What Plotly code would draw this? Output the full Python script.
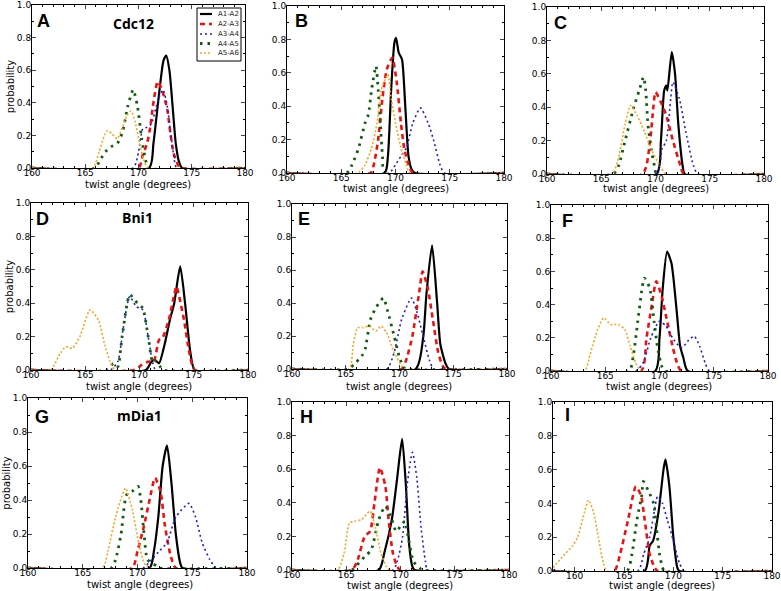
import plotly.graph_objects as go

# ---------------- data (twist angle in degrees, probability) ----------------
series_names = ["A1-A2", "A2-A3", "A3-A4", "A4-A5", "A5-A6"]
panel_letters = ["A", "B", "C", "D", "E", "F", "G", "H", "I"]
row_titles = ["Cdc12", "Bni1", "mDia1"]
x_ticks = [160, 165, 170, 175, 180]

# Panel A
A_x1 = [160, 171.0, 171.4, 171.8, 172.1, 172.35, 172.6, 172.9, 173.2, 173.5, 173.8, 174.1, 180]
A_y1 = [0, 0, 0.15, 0.38, 0.55, 0.66, 0.69, 0.6, 0.38, 0.15, 0.04, 0, 0]
A_x2 = [160, 170.0, 170.4, 170.8, 171.1, 171.4, 171.8, 172.2, 172.7, 173.0, 173.3, 173.7, 174.0, 180]
A_y2 = [0, 0, 0.08, 0.15, 0.25, 0.4, 0.53, 0.48, 0.36, 0.21, 0.09, 0.02, 0, 0]
A_x3 = [160, 169.5, 170.0, 170.4, 170.8, 171.2, 171.6, 171.9, 172.3, 172.7, 173.0, 173.3, 173.6, 180]
A_y3 = [0, 0, 0.1, 0.24, 0.25, 0.27, 0.36, 0.43, 0.48, 0.38, 0.22, 0.08, 0, 0]
A_x4 = [160, 165.9, 166.4, 166.9, 167.4, 168.0, 168.5, 169.0, 169.5, 169.9, 170.3, 170.7, 171.0, 180]
A_y4 = [0, 0, 0.05, 0.1, 0.13, 0.15, 0.22, 0.38, 0.48, 0.38, 0.18, 0.04, 0, 0]
A_x5 = [160, 165.7, 166.3, 166.8, 167.1, 167.5, 168.0, 168.5, 168.9, 169.3, 169.7, 170.1, 170.5, 170.9, 180]
A_y5 = [0, 0, 0.1, 0.2, 0.23, 0.21, 0.18, 0.25, 0.32, 0.35, 0.28, 0.15, 0.05, 0, 0]

# Panel B
B_x1 = [160, 169.0, 169.3, 169.6, 169.9, 170.05, 170.3, 170.6, 170.9, 171.2, 171.5, 171.8, 180]
B_y1 = [0, 0, 0.1, 0.5, 0.78, 0.81, 0.72, 0.68, 0.4, 0.1, 0.02, 0, 0]
B_x2 = [160, 167.7, 168.0, 168.4, 168.8, 169.2, 169.7, 170.1, 170.5, 170.8, 171.2, 171.6, 180]
B_y2 = [0, 0, 0.05, 0.2, 0.45, 0.62, 0.69, 0.55, 0.3, 0.15, 0.05, 0, 0]
B_x3 = [160, 169.4, 170.0, 170.5, 171.0, 171.6, 172.3, 173.0, 173.5, 174.1, 174.5, 180]
B_y3 = [0, 0, 0.05, 0.1, 0.15, 0.3, 0.39, 0.3, 0.2, 0.05, 0, 0]
B_x4 = [160, 165.5, 166.0, 166.6, 167.2, 167.5, 167.8, 168.2, 168.4, 168.6, 168.8, 169.0, 180]
B_y4 = [0, 0, 0.05, 0.15, 0.3, 0.35, 0.5, 0.64, 0.5, 0.3, 0.1, 0, 0]
B_x5 = [160, 166.5, 167.2, 167.8, 168.3, 168.7, 169.3, 169.6, 170.0, 170.5, 171.0, 171.3, 180]
B_y5 = [0, 0, 0.05, 0.15, 0.3, 0.5, 0.59, 0.45, 0.3, 0.15, 0.05, 0, 0]

# Panel C
C_x1 = [160, 170.1, 170.5, 170.8, 171.0, 171.1, 171.5, 171.8, 172.1, 172.5, 172.7, 180]
C_y1 = [0, 0, 0.2, 0.5, 0.53, 0.5, 0.73, 0.6, 0.3, 0.05, 0, 0]
C_x2 = [160, 168.8, 169.5, 169.8, 170.0, 170.5, 171.0, 171.6, 172.3, 172.6, 180]
C_y2 = [0, 0, 0.2, 0.4, 0.49, 0.43, 0.35, 0.2, 0.05, 0, 0]
C_x3 = [160, 170.1, 170.6, 171.0, 171.4, 171.6, 172.2, 172.8, 173.5, 173.9, 180]
C_y3 = [0, 0, 0.15, 0.2, 0.45, 0.55, 0.45, 0.25, 0.05, 0, 0]
C_x4 = [160, 166.1, 166.6, 167.2, 168.0, 168.5, 168.9, 169.1, 169.3, 169.6, 169.9, 170.1, 180]
C_y4 = [0, 0, 0.05, 0.2, 0.4, 0.5, 0.58, 0.5, 0.3, 0.15, 0.05, 0, 0]
C_x5 = [160, 166.0, 166.6, 167.2, 167.7, 168.3, 169.0, 169.6, 170.4, 171.0, 180]
C_y5 = [0, 0, 0.1, 0.3, 0.41, 0.35, 0.25, 0.15, 0.05, 0, 0]

# Panel D
D_x1 = [160, 170.6, 171.1, 171.4, 171.8, 172.3, 172.8, 173.2, 173.75, 174.2, 174.7, 175.1, 180]
D_y1 = [0, 0, 0.05, 0.06, 0.04, 0.15, 0.3, 0.4, 0.62, 0.4, 0.1, 0, 0]
D_x2 = [160, 169.5, 170.2, 170.8, 171.3, 171.8, 172.1, 172.7, 173.2, 173.4, 174.1, 174.6, 175.1, 180]
D_y2 = [0, 0, 0.03, 0.05, 0.05, 0.18, 0.19, 0.3, 0.45, 0.5, 0.3, 0.1, 0, 0]
D_x3 = [160, 167.3, 168.0, 168.5, 169.1, 169.7, 170.3, 170.8, 171.2, 171.5, 180]
D_y3 = [0, 0, 0.05, 0.25, 0.44, 0.38, 0.36, 0.2, 0.05, 0, 0]
D_x4 = [160, 167.0, 167.6, 168.0, 168.4, 169.1, 169.8, 170.3, 170.8, 171.2, 171.4, 171.9, 172.2, 180]
D_y4 = [0, 0, 0.04, 0.02, 0.2, 0.45, 0.4, 0.37, 0.2, 0.05, 0.06, 0.02, 0, 0]
D_x5 = [160, 161.8, 162.7, 163.2, 163.8, 164.5, 165.45, 166.2, 166.8, 167.3, 167.8, 180]
D_y5 = [0, 0, 0.1, 0.14, 0.13, 0.2, 0.36, 0.3, 0.15, 0.05, 0, 0]

# Panel E
E_x1 = [160, 171.5, 172.2, 172.5, 173.03, 173.5, 173.8, 174.3, 174.6, 180]
E_y1 = [0, 0, 0.19, 0.45, 0.75, 0.4, 0.15, 0.03, 0, 0]
E_x2 = [160, 170.2, 170.6, 171.2, 171.8, 172.15, 172.6, 173.1, 173.6, 174.0, 174.3, 180]
E_y2 = [0, 0, 0.05, 0.2, 0.45, 0.59, 0.5, 0.3, 0.1, 0.02, 0, 0]
E_x3 = [160, 168.8, 169.5, 170.2, 171.1, 171.6, 172.2, 172.8, 173.2, 180]
E_y3 = [0, 0, 0.1, 0.3, 0.43, 0.35, 0.2, 0.05, 0, 0]
E_x4 = [160, 165.2, 165.8, 166.5, 166.8, 167.3, 167.8, 168.5, 168.9, 169.5, 170.0, 170.4, 170.6, 180]
E_y4 = [0, 0, 0.03, 0.08, 0.12, 0.3, 0.37, 0.43, 0.35, 0.2, 0.07, 0.01, 0, 0]
E_x5 = [160, 165.3, 165.7, 166.1, 166.6, 167.2, 167.8, 168.3, 168.8, 169.5, 170.2, 170.6, 180]
E_y5 = [0, 0, 0.15, 0.25, 0.25, 0.26, 0.23, 0.26, 0.22, 0.1, 0.02, 0, 0]

# Panel F
F_x1 = [160, 169.6, 170.0, 170.3, 170.7, 171.1, 171.3, 171.6, 171.9, 172.2, 172.6, 180]
F_y1 = [0, 0, 0.2, 0.5, 0.72, 0.65, 0.55, 0.35, 0.15, 0.08, 0, 0]
F_x2 = [160, 168.3, 168.8, 169.3, 169.7, 170.2, 170.7, 171.2, 171.6, 172.0, 180]
F_y2 = [0, 0, 0.2, 0.4, 0.54, 0.45, 0.3, 0.15, 0.05, 0, 0]
F_x3 = [160, 167.8, 168.5, 169.2, 170.0, 170.6, 171.2, 171.8, 172.1, 172.6, 173.2, 173.7, 174.2, 174.6, 180]
F_y3 = [0, 0, 0.05, 0.2, 0.3, 0.27, 0.2, 0.15, 0.14, 0.18, 0.21, 0.15, 0.05, 0, 0]
F_x4 = [160, 167.2, 167.6, 168.0, 168.4, 168.6, 169.1, 169.5, 169.8, 170.2, 170.5, 180]
F_y4 = [0, 0, 0.1, 0.3, 0.5, 0.56, 0.5, 0.3, 0.15, 0.03, 0, 0]
F_x5 = [160, 163.1, 163.6, 164.3, 164.85, 165.5, 166.2, 166.8, 167.3, 167.8, 168.3, 180]
F_y5 = [0, 0, 0.1, 0.25, 0.32, 0.28, 0.28, 0.25, 0.15, 0.05, 0, 0]

# Panel G
G_x1 = [160, 171.1, 171.5, 171.9, 172.3, 172.7, 173.1, 173.5, 173.9, 174.1, 180]
G_y1 = [0, 0, 0.1, 0.3, 0.6, 0.72, 0.5, 0.2, 0.03, 0, 0]
G_x2 = [160, 169.5, 170.0, 170.6, 171.1, 171.6, 172.1, 172.5, 173.0, 173.5, 180]
G_y2 = [0, 0, 0.1, 0.25, 0.4, 0.53, 0.45, 0.25, 0.08, 0, 0]
G_x3 = [160, 170.5, 171.3, 172.0, 172.7, 173.5, 174.7, 175.3, 175.9, 176.6, 177.2, 180]
G_y3 = [0, 0, 0.05, 0.1, 0.15, 0.3, 0.38, 0.3, 0.15, 0.05, 0, 0]
G_x4 = [160, 167.6, 168.0, 168.5, 169.0, 169.5, 170.05, 170.3, 170.6, 170.9, 171.3, 171.8, 172.0, 180]
G_y4 = [0, 0, 0.05, 0.2, 0.43, 0.45, 0.48, 0.4, 0.2, 0.05, 0.03, 0.01, 0, 0]
G_x5 = [160, 166.8, 167.3, 168.0, 168.9, 169.5, 170.1, 170.6, 171.0, 180]
G_y5 = [0, 0, 0.1, 0.3, 0.47, 0.35, 0.15, 0.03, 0, 0]

# Panel H
H_x1 = [160, 168.0, 168.5, 169.2, 169.7, 170.15, 170.5, 170.8, 171.1, 171.3, 180]
H_y1 = [0, 0, 0.1, 0.3, 0.55, 0.78, 0.5, 0.15, 0.02, 0, 0]
H_x2 = [160, 165.5, 166.0, 166.7, 167.2, 167.6, 168.1, 168.6, 168.9, 169.3, 169.7, 170.0, 180]
H_y2 = [0, 0, 0.05, 0.2, 0.23, 0.4, 0.61, 0.5, 0.3, 0.1, 0.02, 0, 0]
H_x3 = [160, 169.3, 169.7, 170.2, 170.6, 171.1, 171.5, 171.9, 172.3, 172.5, 180]
H_y3 = [0, 0, 0.05, 0.2, 0.5, 0.7, 0.55, 0.25, 0.05, 0, 0]
H_x4 = [160, 165.5, 166.0, 166.7, 167.3, 168.0, 168.6, 169.2, 169.6, 170.1, 170.4, 170.7, 171.2, 171.8, 172.0, 180]
H_y4 = [0, 0, 0.03, 0.08, 0.12, 0.3, 0.38, 0.3, 0.23, 0.27, 0.29, 0.2, 0.05, 0.01, 0, 0]
H_x5 = [160, 164.2, 164.8, 165.3, 165.8, 166.4, 167.2, 167.7, 168.2, 168.7, 169.0, 180]
H_y5 = [0, 0, 0.1, 0.28, 0.29, 0.3, 0.35, 0.25, 0.1, 0.02, 0, 0]

# Panel I
I_x1 = [157.8, 167.1, 167.6, 167.95, 168.5, 169.0, 169.2, 169.6, 170.0, 170.4, 170.6, 180]
I_y1 = [0, 0, 0.15, 0.18, 0.35, 0.6, 0.66, 0.5, 0.2, 0.02, 0, 0]
I_x2 = [157.8, 164.0, 164.6, 165.4, 166.2, 166.7, 167.1, 167.6, 168.1, 168.4, 180]
I_y2 = [0, 0, 0.1, 0.3, 0.5, 0.45, 0.3, 0.1, 0.02, 0, 0]
I_x3 = [157.8, 166.4, 167.0, 167.6, 168.0, 168.4, 168.9, 169.4, 170.0, 170.6, 171.1, 180]
I_y3 = [0, 0, 0.1, 0.2, 0.33, 0.44, 0.4, 0.3, 0.18, 0.05, 0, 0]
I_x4 = [157.8, 165.3, 165.8, 166.3, 166.8, 166.95, 167.5, 168.0, 168.3, 168.6, 168.9, 169.1, 180]
I_y4 = [0, 0, 0.1, 0.3, 0.45, 0.53, 0.47, 0.4, 0.25, 0.1, 0.02, 0, 0]
I_x5 = [157.8, 159.0, 159.8, 160.3, 161.0, 161.4, 161.9, 162.4, 162.9, 163.3, 180]
I_y5 = [0.02, 0.1, 0.15, 0.2, 0.35, 0.42, 0.35, 0.2, 0.05, 0, 0]

x_ranges = [[160, 180]] * 8 + [[157.8, 180]]

panel_data = {
    "A": [(A_x1, A_y1), (A_x2, A_y2), (A_x3, A_y3), (A_x4, A_y4), (A_x5, A_y5)],
    "B": [(B_x1, B_y1), (B_x2, B_y2), (B_x3, B_y3), (B_x4, B_y4), (B_x5, B_y5)],
    "C": [(C_x1, C_y1), (C_x2, C_y2), (C_x3, C_y3), (C_x4, C_y4), (C_x5, C_y5)],
    "D": [(D_x1, D_y1), (D_x2, D_y2), (D_x3, D_y3), (D_x4, D_y4), (D_x5, D_y5)],
    "E": [(E_x1, E_y1), (E_x2, E_y2), (E_x3, E_y3), (E_x4, E_y4), (E_x5, E_y5)],
    "F": [(F_x1, F_y1), (F_x2, F_y2), (F_x3, F_y3), (F_x4, F_y4), (F_x5, F_y5)],
    "G": [(G_x1, G_y1), (G_x2, G_y2), (G_x3, G_y3), (G_x4, G_y4), (G_x5, G_y5)],
    "H": [(H_x1, H_y1), (H_x2, H_y2), (H_x3, H_y3), (H_x4, H_y4), (H_x5, H_y5)],
    "I": [(I_x1, I_y1), (I_x2, I_y2), (I_x3, I_y3), (I_x4, I_y4), (I_x5, I_y5)],
}

# ---------------- styles / layout ----------------
W, H = 781, 591
styles = [
    dict(color="#000000", width=2.2, dash="solid"),
    dict(color="#f01010", width=2.6, dash="5px,4px"),
    dict(color="#1f1fd0", width=1.6, dash="2px,3px"),
    dict(color="#0d5e0d", width=2.8, dash="2.5px,5px"),
    dict(color="#f5a623", width=1.6, dash="2px,2px"),
]

# plot-area boxes in window pixels: (left, right, top, bottom)
boxes = [
    (32, 245, 5, 168), (287, 504, 6, 173), (547, 764, 7, 174),
    (31, 248, 203, 370), (292, 507, 204, 369), (551, 768, 205, 371),
    (28, 247, 398, 568), (292, 509, 402, 570), (553, 772, 402, 571),
]
letter_pos = [(43, 21), (301, 21), (560, 23), (42, 219), (304, 219), (567, 221),
              (42, 417), (306, 417), (567, 415)]
title_pos = [(133, 23), (137, 218), (139, 415)]
xtitle_pos = [(138, 184), (396, 188), (656, 189), (139, 386), (399, 386), (659, 386),
              (140, 584), (400, 585), (662, 585)]

# legend box (panel A, top-right), in window pixels
leg_box = (197, 241, 8, 61)
leg_rows = [14, 24, 34, 43.5, 53]
leg_line_x = (200, 212)
leg_text_x = 216


def px(x):
    return x / W


def py(y):
    return 1 - y / H


FONT = "DejaVu Sans"
fig = go.Figure()
layout = dict(
    width=W, height=H, margin=dict(l=0, r=0, t=0, b=0),
    paper_bgcolor="white", plot_bgcolor="white",
    showlegend=False,
    annotations=[], shapes=[],
)

for i, p in enumerate(panel_letters):
    n = "" if i == 0 else str(i + 1)
    l, r, t, b = boxes[i]
    xa = dict(domain=[px(l), px(r)], range=x_ranges[i], anchor="y" + n,
              automargin=False, ticklabeloverflow="allow", ticklabelstandoff=-4,
              tickmode="array", tickvals=x_ticks, ticks="inside", ticklen=4,
              showline=True, linecolor="black", linewidth=1, mirror="allticks",
              showgrid=False, zeroline=False,
              tickfont=dict(family=FONT, size=9, color="black"),
              minor=dict(ticks="inside", ticklen=2, dtick=1, tickcolor="black", showgrid=False))
    ya = dict(domain=[py(b), py(t)], range=[0, 1], anchor="x" + n,
              automargin=False, ticklabeloverflow="allow", ticklabelstandoff=-2,
              dtick=0.2, tickformat=".1f", ticks="inside", ticklen=4,
              showline=True, linecolor="black", linewidth=1, mirror="allticks",
              showgrid=False, zeroline=False,
              tickfont=dict(family=FONT, size=9, color="black"),
              minor=dict(ticks="inside", ticklen=2, dtick=0.1, tickcolor="black", showgrid=False))
    if i % 3 == 0:
        ya["title"] = dict(text="probability", standoff=0,
                           font=dict(family=FONT, size=10, color="black"))
    layout["xaxis" + n] = xa
    layout["yaxis" + n] = ya

    for k, (xs, ys) in enumerate(panel_data[p]):
        st = styles[k]
        fig.add_trace(go.Scatter(
            x=xs, y=ys, mode="lines", name=series_names[k],
            line=dict(color=st["color"], width=st["width"], dash=st["dash"],
                      shape="spline", smoothing=0.6),
            xaxis="x" + n, yaxis="y" + n,
        ))

    lx, ly = letter_pos[i]
    layout["annotations"].append(dict(
        text="<b>%s</b>" % p, x=px(lx), y=py(ly), xref="paper", yref="paper",
        showarrow=False, xanchor="center", yanchor="middle",
        font=dict(family="Liberation Sans", size=18, color="black")))

    tx, ty = xtitle_pos[i]
    layout["annotations"].append(dict(
        text="twist angle (degrees)", x=px(tx), y=py(ty), xref="paper", yref="paper",
        showarrow=False, xanchor="center", yanchor="middle",
        font=dict(family=FONT, size=10, color="black")))

for j, ttl in enumerate(row_titles):
    tx, ty = title_pos[j]
    layout["annotations"].append(dict(
        text="<b>%s</b>" % ttl, x=px(tx), y=py(ty), xref="paper", yref="paper",
        showarrow=False, xanchor="center", yanchor="middle",
        font=dict(family="Open Sans", size=14, color="black")))

# compact legend (drawn as paper shapes + text)
bl, br, bt, bb = leg_box
layout["shapes"].append(dict(type="rect", xref="paper", yref="paper",
                             x0=px(bl), x1=px(br), y0=py(bb), y1=py(bt),
                             line=dict(color="black", width=1), fillcolor="white"))
for k, name in enumerate(series_names):
    st = styles[k]
    yy = py(leg_rows[k])
    layout["shapes"].append(dict(type="line", xref="paper", yref="paper",
                                 x0=px(leg_line_x[0]), x1=px(leg_line_x[1]), y0=yy, y1=yy,
                                 line=dict(color=st["color"], width=st["width"], dash=st["dash"])))
    layout["annotations"].append(dict(
        text=name, x=px(leg_text_x), y=yy, xref="paper", yref="paper",
        showarrow=False, xanchor="left", yanchor="middle",
        font=dict(family=FONT, size=7, color="#222")))

fig.update_layout(**layout)
fig.write_html("out.html", config={"displayModeBar": False},
               post_script="document.body.style.margin='0';document.body.style.overflow='hidden';")
